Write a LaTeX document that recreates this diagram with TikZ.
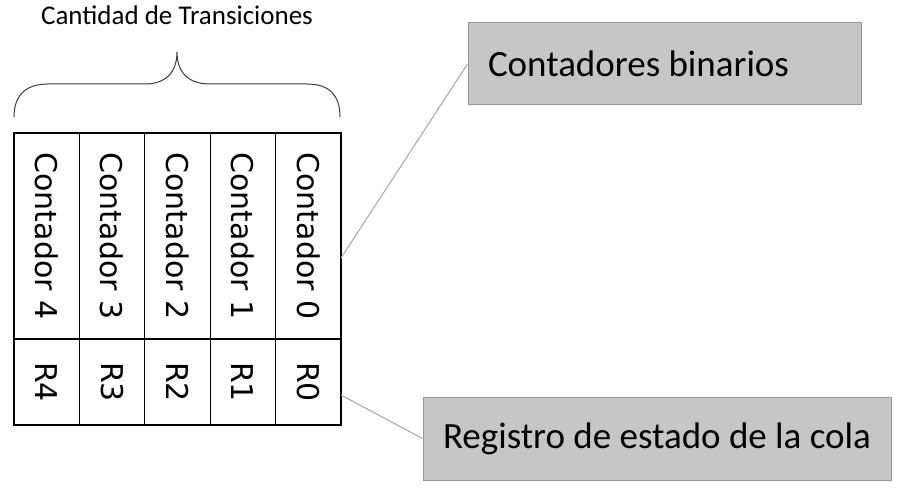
\documentclass[tikz,border=0pt]{standalone}
\usepackage{fontspec}
\usepackage{graphicx}
\setmainfont{Carlito}
\newfontfamily\cellfont{DejaVu Sans}
\newfontfamily\notefont{Carlito}
\usetikzlibrary{positioning}

\definecolor{boxfill}{RGB}{198,198,198}
\definecolor{boxedge}{RGB}{150,150,150}
\definecolor{leader}{RGB}{165,165,165}
\definecolor{bracecol}{RGB}{60,60,60}

\tikzset{
    cell/.style={draw, line width=1.3pt, inner sep=0pt, outer sep=0pt,
        minimum width=65.4pt, font=\cellfont\fontsize{30pt}{32pt}\selectfont},
    counter/.style={cell, minimum height=206pt},
    regcell/.style={cell, minimum height=86pt},
    note/.style={draw=boxedge, fill=boxfill, line width=1pt, inner xsep=20pt,
        minimum height=82pt, font=\notefont\fontsize{37pt}{40pt}\selectfont},
    leaderline/.style={draw=leader, line width=1pt}
}

\begin{document}
\begin{tikzpicture}[x=1pt, y=-1pt]
    \useasboundingbox (0,0) rectangle (905,494);

    \node[anchor=base, font=\fontsize{27pt}{30pt}\selectfont] (title) at (177,25) {Cantidad de Transiciones};

    % brace over the counters
    \draw[bracecol, line width=1pt] (14,117) .. controls (14,95) and (26,84) .. (48,84) -- (145,84)
        .. controls (166,84) and (177,72) .. (177,52)
        .. controls (177,72) and (188,84) .. (210,84) -- (307,84)
        .. controls (329,84) and (340,95) .. (340,117);

    % counters
    \node[counter] (c4) at (46.7,236) {\rotatebox{-90}{Contador 4}};
    \node[counter] (c3) [right=0pt of c4] {\rotatebox{-90}{Contador 3}};
    \node[counter] (c2) [right=0pt of c3] {\rotatebox{-90}{Contador 2}};
    \node[counter] (c1) [right=0pt of c2] {\rotatebox{-90}{Contador 1}};
    \node[counter] (c0) [right=0pt of c1] {\rotatebox{-90}{Contador 0}};

    % queue state register
    \node[regcell] (r4) [below=0pt of c4] {\rotatebox{-90}{R4}};
    \node[regcell] (r3) [below=0pt of c3] {\rotatebox{-90}{R3}};
    \node[regcell] (r2) [below=0pt of c2] {\rotatebox{-90}{R2}};
    \node[regcell] (r1) [below=0pt of c1] {\rotatebox{-90}{R1}};
    \node[regcell] (r0) [below=0pt of c0] {\rotatebox{-90}{R0}};

    % callouts
    \node[note] (bin) at (664.5,64) {\makebox[353pt][l]{Contadores binarios}};
    \node[note, minimum height=83pt] (reg) at (657,438.5) {\makebox[428pt][l]{Registro de estado de la cola}};

    \path[leaderline] ([yshift=-22pt]c0.east) -- (bin.west);
    \path[leaderline] ([yshift=-13pt]r0.east) -- (reg.west);
\end{tikzpicture}
\end{document}
